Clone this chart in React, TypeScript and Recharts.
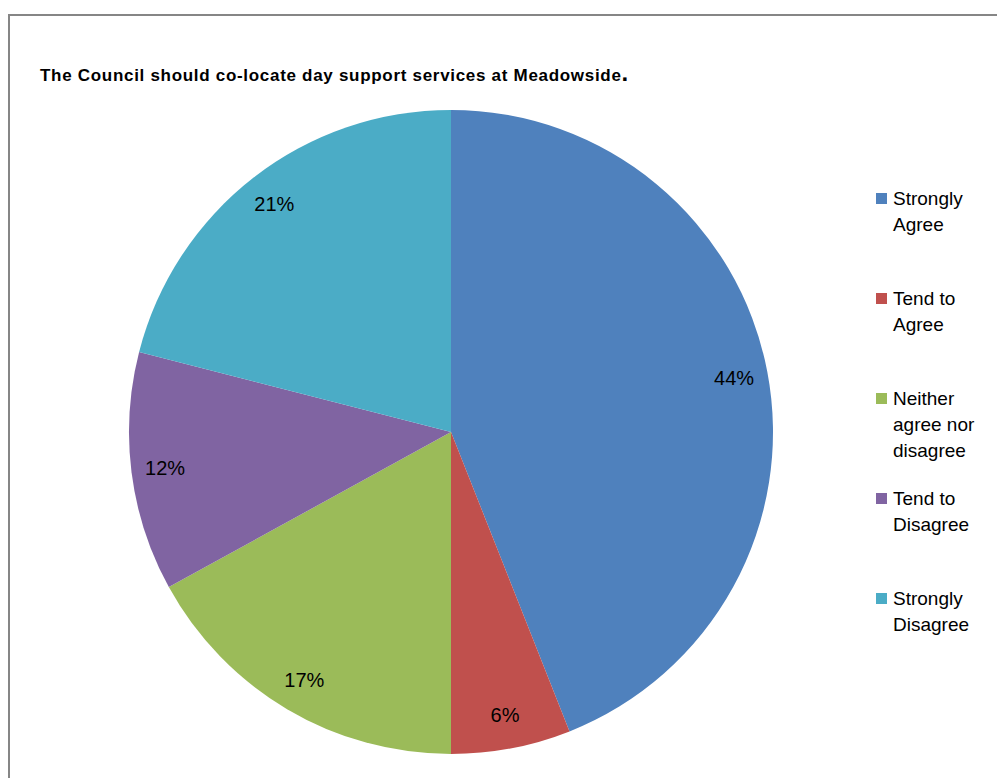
import React from 'react';
import { PieChart, Pie, Cell, Legend } from 'recharts';

const categories = [
  'Strongly Agree',
  'Tend to Agree',
  'Neither agree nor disagree',
  'Tend to Disagree',
  'Strongly Disagree',
];
const shares = [44, 6, 17, 12, 21];
const colors = ['#4F81BD', '#C0504D', '#9BBB59', '#8064A2', '#4BACC6'];

const data = categories.map((name, i) => ({ name, value: shares[i] }));

const RAD = Math.PI / 180;

const renderLabel = ({ cx, cy, midAngle, outerRadius, value }: any) => {
  const r = outerRadius * 0.895;
  const x = cx + r * Math.cos(-midAngle * RAD);
  const y = cy + r * Math.sin(-midAngle * RAD);
  return (
    <text
      x={x}
      y={y}
      textAnchor="middle"
      dominantBaseline="central"
      fill="#000"
      fontSize={20}
      fontFamily="'Liberation Sans', Arial, sans-serif"
    >
      {value}%
    </text>
  );
};

// legend drawn in the original category order (recharts sorts payload by name)
const renderLegend = () => (
  <div>
    {categories.map((name, i) => (
      <div key={`leg-${i}`} style={{ position: 'relative', height: 100 }}>
        <span
          style={{
            position: 'absolute',
            left: 0,
            top: 7,
            width: 11,
            height: 11,
            background: colors[i],
          }}
        />
        <div
          style={{
            position: 'absolute',
            left: 17,
            top: 0,
            width: 100,
            fontSize: 19,
            lineHeight: '26px',
            color: '#000',
          }}
        >
          {name}
        </div>
      </div>
    ))}
  </div>
);

export default function App() {
  return (
    <div
      style={{
        position: 'relative',
        width: 997,
        height: 770,
        overflow: 'hidden',
        fontFamily: "'Liberation Sans', Arial, sans-serif",
      }}
    >
      <div
        style={{
          position: 'absolute',
          left: 0,
          top: 6,
          width: 1010,
          height: 800,
          border: '2px solid #868686',
          boxSizing: 'border-box',
        }}
      />
      <div
        style={{
          position: 'absolute',
          left: 32,
          top: 51,
          fontSize: 17,
          letterSpacing: 0.7,
          fontWeight: 'bold',
          color: '#000',
          whiteSpace: 'nowrap',
        }}
      >
        The Council should co-locate day support services at Meadowside
        <span style={{ fontSize: 24 }}>.</span>
      </div>
      <div style={{ position: 'absolute', left: 0, top: 0 }}>
        <PieChart width={997} height={770}>
          <Pie
            data={data}
            dataKey="value"
            nameKey="name"
            cx={438}
            cy={419}
            outerRadius={322}
            startAngle={90}
            endAngle={-270}
            stroke="none"
            label={renderLabel}
            labelLine={false}
            isAnimationActive={false}
          >
            {data.map((d, i) => (
              <Cell key={d.name} fill={colors[i]} />
            ))}
          </Pie>
          <Legend
            layout="vertical"
            content={renderLegend}
            wrapperStyle={{ position: 'absolute', left: 868, top: 178, width: 130 }}
          />
        </PieChart>
      </div>
    </div>
  );
}
